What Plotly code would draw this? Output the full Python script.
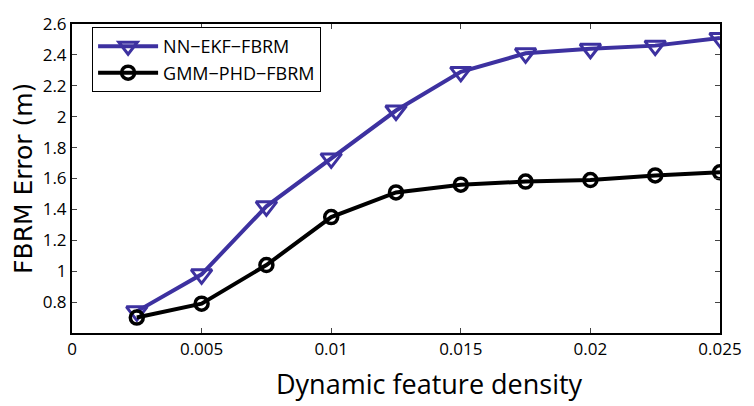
import plotly.graph_objects as go

density = [0.0025, 0.005, 0.0075, 0.01, 0.0125, 0.015, 0.0175, 0.02, 0.0225, 0.025]
nn_ekf = [0.74, 0.98, 1.42, 1.73, 2.04, 2.29, 2.41, 2.44, 2.46, 2.51]
gmm_phd = [0.70, 0.79, 1.04, 1.35, 1.51, 1.56, 1.58, 1.59, 1.62, 1.64]

x_ticks = [0, 0.005, 0.01, 0.015, 0.02, 0.025]
x_labels = ["0", "0.005", "0.01", "0.015", "0.02", "0.025"]
y_ticks = [0.8, 1.0, 1.2, 1.4, 1.6, 1.8, 2.0, 2.2, 2.4, 2.6]
y_labels = ["0.8", "1", "1.2", "1.4", "1.6", "1.8", "2", "2.2", "2.4", "2.6"]

purple = "#3d31a0"
font = "Open Sans"

fig = go.Figure()
fig.add_trace(go.Scatter(
    x=density, y=nn_ekf, name="NN\u2212EKF\u2212FBRM", mode="lines+markers",
    line=dict(color=purple, width=4),
    marker=dict(symbol="triangle-down-open", size=18, color=purple, line=dict(width=3, color=purple)),
))
fig.add_trace(go.Scatter(
    x=density, y=gmm_phd, name="GMM\u2212PHD\u2212FBRM", mode="lines+markers",
    line=dict(color="black", width=4),
    marker=dict(symbol="circle-open", size=13, color="black", line=dict(width=3.5, color="black")),
))

axis_common = dict(
    showgrid=False, zeroline=False, showline=True, linecolor="black", linewidth=2,
    mirror="ticks", ticks="inside", ticklen=5, tickcolor="#444", tickwidth=1,
    tickfont=dict(family=font, size=17, color="black"),
)
fig.update_xaxes(range=[0, 0.025], tickvals=x_ticks, ticktext=x_labels, **axis_common)
fig.update_yaxes(range=[0.6, 2.6], tickvals=y_ticks, ticktext=y_labels, **axis_common)

fig.add_annotation(text="Dynamic feature density", xref="paper", yref="paper",
                   x=0.551, y=-0.162, xanchor="center", yanchor="middle", showarrow=False,
                   font=dict(family=font, size=27, color="black"))
fig.add_annotation(text="FBRM Error (m)", xref="paper", yref="paper",
                   x=-0.075, y=0.5, xanchor="center", yanchor="middle", showarrow=False,
                   textangle=-90,
                   font=dict(family="DejaVu Sans", size=25, color="black"))

fig.update_layout(
    width=754, height=406,
    margin=dict(l=72, r=31, t=12, b=73),
    plot_bgcolor="white", paper_bgcolor="white",
    showlegend=True,
    legend=dict(x=0.031, y=0.99, xanchor="left", yanchor="top",
                bgcolor="white", bordercolor="black", borderwidth=1,
                font=dict(family=font, size=18, color="black"),
                itemwidth=60, tracegroupgap=2),
)

fig.write_html("out.html")
